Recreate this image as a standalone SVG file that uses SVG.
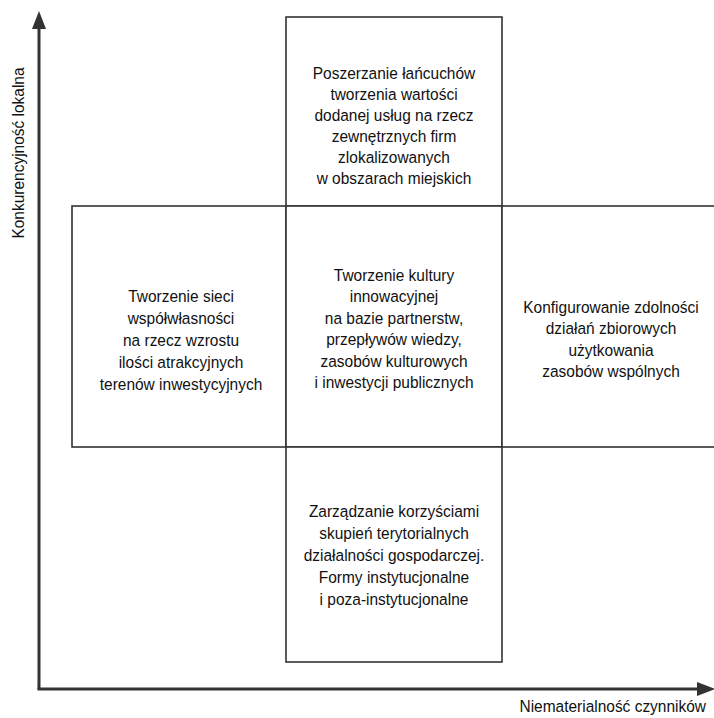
<svg xmlns="http://www.w3.org/2000/svg" width="714" height="718" viewBox="0 0 714 718">
<style>
.box{fill:#fff;stroke:#333;stroke-width:1.6}
.axis{fill:none;stroke:#333;stroke-width:3}
.head{fill:#333}
text{font-family:"Liberation Sans",Arial,sans-serif;font-size:17px;fill:#111;text-anchor:middle}
</style>
<rect width="714" height="718" fill="#fff"/>
<g id="connectors">
<line class="axis" x1="39" y1="689" x2="39" y2="26"/>
<polygon class="head" points="39,11 32,29 46,29"/>
<line class="axis" x1="37.5" y1="689" x2="700" y2="689"/>
<polygon class="head" points="715,689 697,682 697,696"/>
</g>
<g id="top">
<rect class="box" x="286" y="17" width="216" height="189"/>
<g transform="translate(394,0) scale(0.91,1)">
<text x="0" y="79">Poszerzanie łańcuchów</text>
<text x="0" y="100">tworzenia wartości</text>
<text x="0" y="121">dodanej usług na rzecz</text>
<text x="0" y="142">zewnętrznych firm</text>
<text x="0" y="163">zlokalizowanych</text>
<text x="0" y="184">w obszarach miejskich</text>
</g>
</g>
<g id="left">
<rect class="box" x="72" y="206" width="214" height="241"/>
<g transform="translate(181,0) scale(0.91,1)">
<text x="0" y="302">Tworzenie sieci</text>
<text x="0" y="324">współwłasności</text>
<text x="0" y="346">na rzecz wzrostu</text>
<text x="0" y="368">ilości atrakcyjnych</text>
<text x="0" y="390">terenów inwestycyjnych</text>
</g>
</g>
<g id="center">
<rect class="box" x="286" y="206" width="216" height="241"/>
<g transform="translate(394,0) scale(0.91,1)">
<text x="0" y="281">Tworzenie kultury</text>
<text x="0" y="302.5">innowacyjnej</text>
<text x="0" y="324">na bazie partnerstw,</text>
<text x="0" y="345.5">przepływów wiedzy,</text>
<text x="0" y="367">zasobów kulturowych</text>
<text x="0" y="388.5">i inwestycji publicznych</text>
</g>
</g>
<g id="right">
<rect class="box" x="502" y="206" width="214" height="241"/>
<g transform="translate(611,0) scale(0.91,1)">
<text x="0" y="313">Konfigurowanie zdolności</text>
<text x="0" y="334.5">działań zbiorowych</text>
<text x="0" y="356">użytkowania</text>
<text x="0" y="377.5">zasobów wspólnych</text>
</g>
</g>
<g id="bottom">
<rect class="box" x="286" y="447" width="216" height="215"/>
<g transform="translate(394,0) scale(0.91,1)">
<text x="0" y="517">Zarządzanie korzyściami</text>
<text x="0" y="539">skupień terytorialnych</text>
<text x="0" y="561">działalności gospodarczej.</text>
<text x="0" y="583">Formy instytucjonalne</text>
<text x="0" y="605">i poza-instytucjonalne</text>
</g>
</g>
<g id="labels">
<g transform="translate(706,712) scale(0.91,1)">
<text x="0" y="0" style="text-anchor:end">Niematerialność czynników</text>
</g>
<g transform="translate(24,153) rotate(-90) scale(0.91,1)">
<text x="0" y="0">Konkurencyjność lokalna</text>
</g>
</g>
</svg>
